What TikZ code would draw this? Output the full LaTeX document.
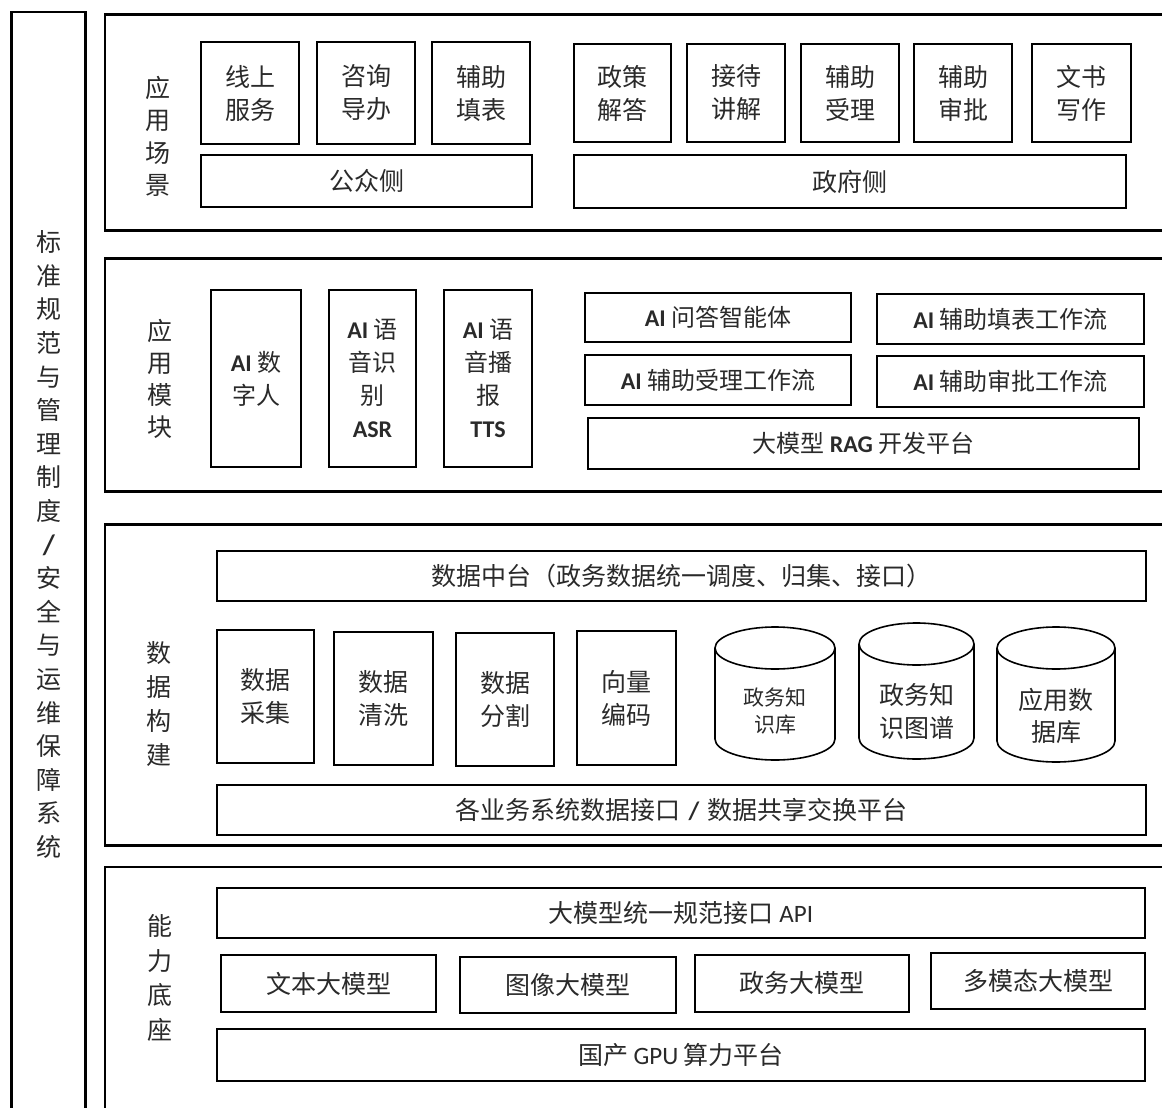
\documentclass[tikz,border=0pt]{standalone}
\usepackage{fontspec}
\setmainfont{Noto Sans CJK SC}
\newfontfamily\lat{Carlito}
\definecolor{txt}{HTML}{2A2A2A}
\tikzset{
 layer/.style={draw=black, line width=2.6pt, inner sep=0pt},
 box/.style={draw=black, line width=2.4pt, inner sep=0pt, align=center, text=txt, font=\fontsize{25pt}{33pt}\selectfont},
 box2/.style={box, font=\fontsize{24pt}{33pt}\selectfont},
 vlabel/.style={align=center, text=txt, inner sep=0pt},
 dbtext/.style={align=center, text=txt, inner sep=0pt},
 db/.style={draw=black, line width=1.6pt},
}
\begin{document}
\begin{tikzpicture}[x=1pt,y=1pt]
\useasboundingbox (0,0) rectangle (1162,-1108);
\fill[white] (0,0) rectangle (1162,-1108);

% left tall box
\node[layer, minimum width=74pt, minimum height=1128pt] (side) at (48.5,-576) {};
\node[vlabel, font=\fontsize{25pt}{33.6pt}\selectfont] (sidelbl) at (49,-544.5)
 {标\\准\\规\\范\\与\\管\\理\\制\\度\\{\lat\bfseries\fontsize{28pt}{33.6pt}\selectfont /}\\安\\全\\与\\运\\维\\保\\障\\系\\统};

% layers
\node[layer, minimum width=1080pt, minimum height=216pt] (L1) at (645,-122.5) {};
\node[layer, minimum width=1080pt, minimum height=233pt] (L2) at (645,-375) {};
\node[layer, minimum width=1080pt, minimum height=321pt] (L3) at (645,-685) {};
\node[layer, minimum width=1080pt, minimum height=273pt] (L4) at (645,-1003.5) {};

% layer labels
\node[vlabel, font=\fontsize{25pt}{32.5pt}\selectfont] (L1lbl) at (158,-136.5) {应\\用\\场\\景};
\node[vlabel, font=\fontsize{25pt}{32pt}\selectfont] (L2lbl) at (160,-378.5) {应\\用\\模\\块};
\node[vlabel, font=\fontsize{25pt}{34pt}\selectfont] (L3lbl) at (159,-703.5) {数\\据\\构\\建};
\node[vlabel, font=\fontsize{25pt}{34.6pt}\selectfont] (L4lbl) at (160,-978) {能\\力\\底\\座};

% ---- layer 1: application scenarios
\node[box, minimum width=98pt, minimum height=102pt] (s1) at (250,-93) {线上\\服务};
\node[box, minimum width=98pt, minimum height=102pt] (s2) at (366,-93) {咨询\\导办};
\node[box, minimum width=98pt, minimum height=102pt] (s3) at (481,-93) {辅助\\填表};
\node[box, minimum width=97pt, minimum height=98pt] (g1) at (622.5,-93) {政策\\解答};
\node[box, minimum width=98pt, minimum height=98pt] (g2) at (736,-93) {接待\\讲解};
\node[box, minimum width=98pt, minimum height=98pt] (g3) at (850,-93) {辅助\\受理};
\node[box, minimum width=98pt, minimum height=98pt] (g4) at (963,-93) {辅助\\审批};
\node[box, minimum width=99pt, minimum height=98pt] (g5) at (1081.5,-93) {文书\\写作};
\node[box, minimum width=331pt, minimum height=52pt] (pub) at (366.5,-181) {公众侧};
\node[box, minimum width=552pt, minimum height=53pt] (gov) at (850,-181.5) {政府侧};

% ---- layer 2: application modules
\node[box2, minimum width=90pt, minimum height=177pt] (m1) at (256,-378.5) {{\lat\bfseries AI} 数\\字人};
\node[box2, minimum width=87pt, minimum height=177pt] (m2) at (372.5,-378.5) {{\lat\bfseries AI} 语\\音识\\别\\{\lat\bfseries ASR}};
\node[box2, minimum width=88pt, minimum height=177pt] (m3) at (488,-378.5) {{\lat\bfseries AI} 语\\音播\\报\\{\lat\bfseries TTS}};
\node[box2, minimum width=266pt, minimum height=49pt] (m4) at (718,-317.5) {{\lat\bfseries AI} 问答智能体};
\node[box2, minimum width=267pt, minimum height=50pt] (m5) at (1010.5,-319) {{\lat\bfseries AI} 辅助填表工作流};
\node[box2, minimum width=266pt, minimum height=50pt] (m6) at (718,-380) {{\lat\bfseries AI} 辅助受理工作流};
\node[box2, minimum width=267pt, minimum height=51pt] (m7) at (1010.5,-381.5) {{\lat\bfseries AI} 辅助审批工作流};
\node[box2, minimum width=551pt, minimum height=51pt] (rag) at (863.5,-443.5) {大模型 {\lat\bfseries RAG} 开发平台};

% ---- layer 3: data construction
\node[box, minimum width=929pt, minimum height=50pt] (dmid) at (681.5,-576) {数据中台（政务数据统一调度、归集、接口）};
\node[box, minimum width=97pt, minimum height=133pt] (d1) at (265.5,-696.5) {数据\\采集};
\node[box, minimum width=99pt, minimum height=133pt] (d2) at (383.5,-698.5) {数据\\清洗};
\node[box, minimum width=98pt, minimum height=133pt] (d3) at (505,-699.5) {数据\\分割};
\node[box, minimum width=99pt, minimum height=134pt] (d4) at (626.5,-698) {向量\\编码};
\node[box, minimum width=929pt, minimum height=50pt] (dif) at (681.5,-810) {各业务系统数据接口\hspace{8pt}{\lat\bfseries /}\hspace{8pt}数据共享交换平台};

% cylinders
\draw[db] (715,-648) -- (715,-739) arc[start angle=180,end angle=360,x radius=60pt,y radius=21pt] -- (835,-648);
\draw[db] (775,-648) ellipse[x radius=60pt, y radius=21pt];
\node[dbtext, font=\fontsize{21pt}{27pt}\selectfont] (c1) at (775,-711.5) {政务知\\识库};

\draw[db] (859,-644) -- (859,-738) arc[start angle=180,end angle=360,x radius=57.5pt,y radius=21pt] -- (974,-644);
\draw[db] (916.5,-644) ellipse[x radius=57.5pt, y radius=21pt];
\node[dbtext, font=\fontsize{25pt}{33pt}\selectfont] (c2) at (916.5,-711.5) {政务知\\识图谱};

\draw[db] (997,-648) -- (997,-741) arc[start angle=180,end angle=360,x radius=59pt,y radius=21pt] -- (1115,-648);
\draw[db] (1056,-648) ellipse[x radius=59pt, y radius=21pt];
\node[dbtext, font=\fontsize{25pt}{32pt}\selectfont] (c3) at (1056,-716) {应用数\\据库};

% ---- layer 4: capability base
\node[box, minimum width=928pt, minimum height=50pt] (api) at (681,-913) {大模型统一规范接口 {\lat API}};
\node[box, minimum width=215pt, minimum height=57pt] (b1) at (328.5,-983.5) {文本大模型};
\node[box, minimum width=216pt, minimum height=56pt] (b2) at (568,-985) {图像大模型};
\node[box, minimum width=214pt, minimum height=57pt] (b3) at (802,-983.5) {政务大模型};
\node[box, minimum width=214pt, minimum height=56pt] (b4) at (1038,-981) {多模态大模型};
\node[box, minimum width=928pt, minimum height=52pt] (gpu) at (681,-1055) {国产 {\lat GPU} 算力平台};
\end{tikzpicture}
\end{document}
